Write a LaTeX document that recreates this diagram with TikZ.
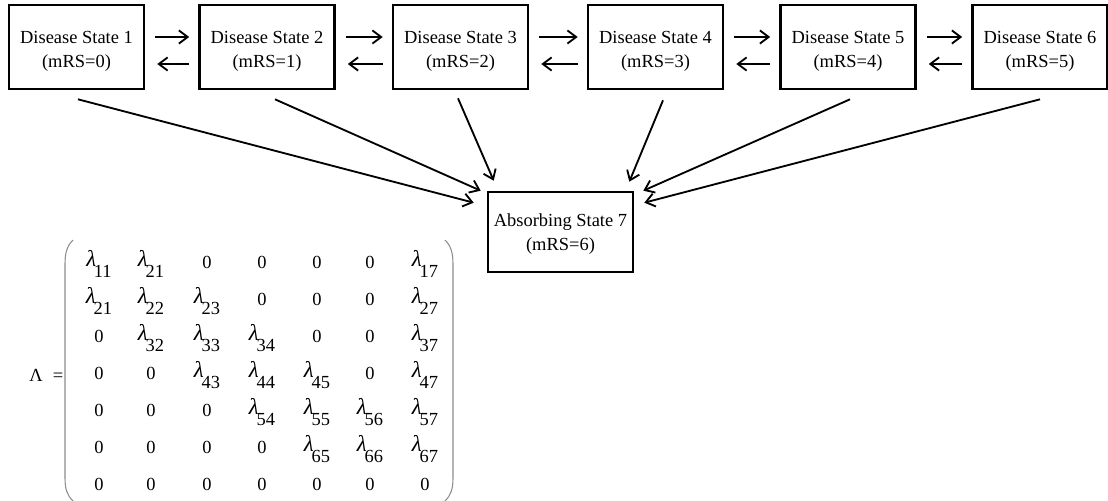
\documentclass[tikz,border=0pt]{standalone}
\usepackage{fontspec}
\setmainfont{Liberation Serif}
\usetikzlibrary{arrows.meta,calc}
\newcommand\lm[1]{\raisebox{1.1pt}{\fontsize{13}{13}\selectfont\itshape λ}\kern-1.3pt\raisebox{-5.2pt}{#1}}
\newcommand\twoline[3]{\rule{0pt}{#3}#1\\#2}
\tikzset{
  state/.style={draw, line width=1.5pt, minimum width=2.7cm, minimum height=1.68cm,
    align=center, inner sep=0pt, font=\fontsize{10.5}{13.6}\selectfont},
  link/.style={line width=1.05pt, -{Straight Barb[length=5pt,width=7.5pt]}},
  entry/.style={anchor=base, inner sep=0pt, font=\fontsize{10.5}{11}\selectfont},
  paren/.style={black!45, line width=0.6pt}
}
\begin{document}
\begin{tikzpicture}[x=0.02cm, y=-0.02cm]
\useasboundingbox (0,0) rectangle (1108,500);
% disease states
\node[state] (b1) at (76.5,47) {\twoline{Disease State 1}{(mRS=0)}{11.8pt}};
\node[state] (b2) at (267,47) {\twoline{Disease State 2}{(mRS=1)}{11.8pt}};
\node[state] (b3) at (460.5,47) {\twoline{Disease State 3}{(mRS=2)}{11.8pt}};
\node[state] (b4) at (655.5,47) {\twoline{Disease State 4}{(mRS=3)}{11.8pt}};
\node[state] (b5) at (848,47) {\twoline{Disease State 5}{(mRS=4)}{11.8pt}};
\node[state] (b6) at (1040,47) {\twoline{Disease State 6}{(mRS=5)}{11.8pt}};
\node[state, minimum width=2.9cm, minimum height=1.6cm] (ab) at (560.5,232) {\twoline{Absorbing State 7}{(mRS=6)}{9.5pt}};
% forward/backward arrows
\foreach \a/\b in {b1/b2,b2/b3,b3/b4,b4/b5,b5/b6}{
  \draw[link] ($(\a.east)+(10,-10)$) -- ($(\b.west)+(-9,-10)$);
  \draw[link] ($(\b.west)+(-9,17)$) -- ($(\a.east)+(12,17)$);
}
% arrows to absorbing state
\draw[link] ($(b1.south)+(1.5,9)$) -- ($(ab.north west)+(-13,12)$);
\draw[link] ($(b2.south)+(8,9)$) -- ($(ab.north west)+(-6,0)$);
\draw[link] ($(b3.south)+(-2.5,8)$) -- ($(ab.north west)+(7,-10)$);
\draw[link] ($(b4.south)+(7.5,10)$) -- ($(ab.north east)+(-5,-9)$);
\draw[link] ($(b5.south)+(2,9)$) -- ($(ab.north east)+(9,0)$);
\draw[link] ($(b6.south)+(0,9)$) -- ($(ab.north east)+(10,12)$);
% matrix
\node[entry] (Lam) at (36,381) {Λ};
\node[entry] (eq) at (58,381) {=};
\draw[paren] (73,240) .. controls (67,246) and (65,253) .. (65,264) -- (65,478) .. controls (65,489) and (67,495) .. (73,501);
\draw[paren] (445,240) .. controls (451,246) and (453,253) .. (453,264) -- (453,478) .. controls (453,489) and (451,495) .. (445,501);
\foreach \r/\row in {
  1/{\lm{11},\lm{21},0,0,0,0,\lm{17}},
  2/{\lm{21},\lm{22},\lm{23},0,0,0,\lm{27}},
  3/{0,\lm{32},\lm{33},\lm{34},0,0,\lm{37}},
  4/{0,0,\lm{43},\lm{44},\lm{45},0,\lm{47}},
  5/{0,0,0,\lm{54},\lm{55},\lm{56},\lm{57}},
  6/{0,0,0,0,\lm{65},\lm{66},\lm{67}},
  7/{0,0,0,0,0,0,0}}{
  \foreach \e [count=\c] in \row {
    \pgfmathsetmacro\xx{{99,151,207,262,317,370,425}[\c-1]}
    \node[entry] (m\r-\c) at (\xx,{268+37*(\r-1)}) {\e};
  }
}
\end{tikzpicture}
\end{document}
